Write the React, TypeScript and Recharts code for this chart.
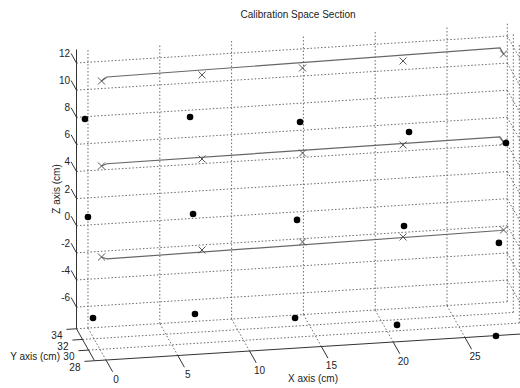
import React from "react";
import { ScatterChart, Scatter, XAxis, YAxis } from "recharts";

// axis limits and ticks (cm)
const xLim = [-0.8, 29.2];
const yLim = [28, 34];
const zLim = [-7.6, 13];
const xTicks = [0, 5, 10, 15, 20, 25];
const yTicks = [28, 30, 32, 34];
const zTicks = [-6, -4, -2, 0, 2, 4, 6, 8, 10, 12];

// measured crosses, all at depth y = 29.5
const crossY = 29.5;
const crossX = [0, 7, 14, 21, 28];
const crossZTop = [12.39, 12.37, 12.42, 12.47, 12.52];
const crossZMid = [6.12, 6.17, 6.15, 6.28, 6.03];
const crossZLow = [-0.59, -0.54, -0.41, -0.51, -0.46];

// solid section lines joining the end crosses
const lineX = [0, 0.38, 27.75, 28];
const lineZTop = [12.39, 12.66, 12.98, 12.52];
const lineZMid = [6.12, 6.26, 6.42, 6.03];
const lineZLow = [-0.59, -0.76, -0.48, -0.46];

// dots
const dotYTop = 32;
const dotXTop = [-0.63, 6.69, 14.35, 21.94, 28.69];
const dotZTop = [8.65, 8.31, 7.43, 6.19, 4.93];
const dotYMid = 31;
const dotXMid = [-0.63, 6.69, 13.93, 21.38, 27.99];
const dotZMid = [1.81, 1.55, 0.63, -0.31, -2.0];
const dotYLow = 28.5;
const dotXLow = [-0.8, 6.3, 13.27, 20.37, 27.26];
const dotZLow = [-4.64, -4.82, -5.58, -6.56, -7.83];

// simple oblique view of the 3d box: u runs with x, v runs with z
const proj = (x: number, y: number, z: number) => {
  const d = y - yLim[1];
  return { u: x - 0.209 * d, v: z + 0.0664 * x + 0.393 * d };
};
const U_DOMAIN = [-6.128, 30.084];
const V_DOMAIN = [-12.021, 16.593];

const [x0, x1] = xLim;
const [y0, y1] = yLim;
const [z0, z1] = zLim;

type Seg = { u: number; v: number }[];
const seg = (a: number[], b: number[]): Seg => [proj(a[0], a[1], a[2]), proj(b[0], b[1], b[2])];

const gridSegs: Seg[] = [
  ...xTicks.map((x) => seg([x, y1, z0], [x, y1, z1])),
  ...zTicks.map((z) => seg([x0, y1, z], [x1, y1, z])),
  ...xTicks.map((x) => seg([x, y0, z0], [x, y1, z0])),
  ...yTicks.filter((y) => y > y0).map((y) => seg([x0, y, z0], [x1, y, z0])),
  ...yTicks.map((y) => seg([x1, y, z0], [x1, y, z1])),
  ...zTicks.map((z) => seg([x1, y0, z], [x1, y1, z])),
];

const axisSegs: Seg[] = [
  seg([x0, y1, z0], [x0, y1, z1]),
  seg([x0, y0, z0], [x0, y1, z0]),
  seg([x0, y0, z0], [x1, y0, z0]),
  ...zTicks.map((z) => seg([x0, y1, z], [x0, y1 + 1.8, z])),
  ...yTicks.map((y) => seg([x0, y, z0], [x0 - 0.7, y, z0])),
  ...xTicks.map((x) => seg([x, y0, z0], [x, y0 - 2.2, z0])),
];

const fitLines: Seg[] = [lineZTop, lineZMid, lineZLow].map((zs) =>
  lineX.map((x, i) => proj(x, crossY, zs[i]))
);
const crosses = [crossZTop, crossZMid, crossZLow].flatMap((zs) =>
  crossX.map((x, i) => proj(x, crossY, zs[i]))
);
const dots = [
  ...dotXTop.map((x, i) => proj(x, dotYTop, dotZTop[i])),
  ...dotXMid.map((x, i) => proj(x, dotYMid, dotZMid[i])),
  ...dotXLow.map((x, i) => proj(x, dotYLow, dotZLow[i])),
];

const zLabels = zTicks.map((z) => ({ ...proj(x0, y1 + 1.8, z), t: String(z) }));
const yLabels = yTicks.map((y) => ({ ...proj(x0 - 0.7, y, z0), t: String(y) }));
const xLabels = xTicks.map((x) => ({ ...proj(x, y0, z0), t: String(x) }));

const FONT = "'Liberation Sans', Arial, sans-serif";
const Empty = () => <g />;

const Cross = (p: any) => (
  <path
    d={`M${p.cx - 3.5},${p.cy - 3.5}L${p.cx + 3.5},${p.cy + 3.5}M${p.cx - 3.5},${p.cy + 3.5}L${p.cx + 3.5},${p.cy - 3.5}`}
    stroke="#555"
    strokeWidth={1}
    fill="none"
  />
);
const Dot = (p: any) => <circle cx={p.cx} cy={p.cy} r={3.3} fill="#000" />;

const textShape = (dx: number, dy: number, anchor: "start" | "middle" | "end") => (p: any) => (
  <text x={p.cx + dx} y={p.cy + dy} dy="0.35em" textAnchor={anchor} fontSize={10} fontFamily={FONT} fill="#222">
    {p.payload.t}
  </text>
);

export default function App() {
  return (
    <div style={{ position: "relative", width: 520, height: 388, fontFamily: FONT, color: "#222" }}>
      <style>{"body{margin:0;background:#fff}"}</style>
      <ScatterChart width={520} height={388} margin={{ top: 0, right: 0, bottom: 0, left: 0 }}>
        <XAxis type="number" dataKey="u" domain={U_DOMAIN} allowDataOverflow hide />
        <YAxis type="number" dataKey="v" domain={V_DOMAIN} allowDataOverflow hide />
        {gridSegs.map((s, i) => (
          <Scatter
            key={`g${i}`}
            data={s}
            line={{ stroke: "#6a6a6a", strokeWidth: 1, strokeDasharray: "1.5 2" }}
            lineType="joint"
            shape={Empty}
            isAnimationActive={false}
          />
        ))}
        {axisSegs.map((s, i) => (
          <Scatter
            key={`a${i}`}
            data={s}
            line={{ stroke: "#333", strokeWidth: 1 }}
            lineType="joint"
            shape={Empty}
            isAnimationActive={false}
          />
        ))}
        {fitLines.map((s, i) => (
          <Scatter
            key={`f${i}`}
            data={s}
            line={{ stroke: "#666", strokeWidth: 1.2 }}
            lineType="joint"
            shape={Empty}
            isAnimationActive={false}
          />
        ))}
        <Scatter data={crosses} shape={Cross} isAnimationActive={false} />
        <Scatter data={dots} shape={Dot} isAnimationActive={false} />
        <Scatter data={zLabels} shape={textShape(-1, 0, "end")} isAnimationActive={false} />
        <Scatter data={yLabels} shape={textShape(-4, 6, "end")} isAnimationActive={false} />
        <Scatter data={xLabels} shape={textShape(10, 19, "middle")} isAnimationActive={false} />
      </ScatterChart>
      <div style={{ position: "absolute", left: 298, top: 14, transform: "translate(-50%, -50%)", fontSize: 10, whiteSpace: "nowrap" }}>
        Calibration Space Section
      </div>
      <div
        style={{ position: "absolute", left: 56, top: 189, transform: "translate(-50%, -50%) rotate(-90deg)", fontSize: 10, whiteSpace: "nowrap" }}
      >
        Z axis (cm)
      </div>
      <div style={{ position: "absolute", right: 520 - 60, top: 356, transform: "translateY(-50%)", fontSize: 10, whiteSpace: "nowrap" }}>
        Y axis (cm)
      </div>
      <div style={{ position: "absolute", left: 313, top: 378, transform: "translate(-50%, -50%)", fontSize: 10, whiteSpace: "nowrap" }}>
        X axis (cm)
      </div>
    </div>
  );
}
